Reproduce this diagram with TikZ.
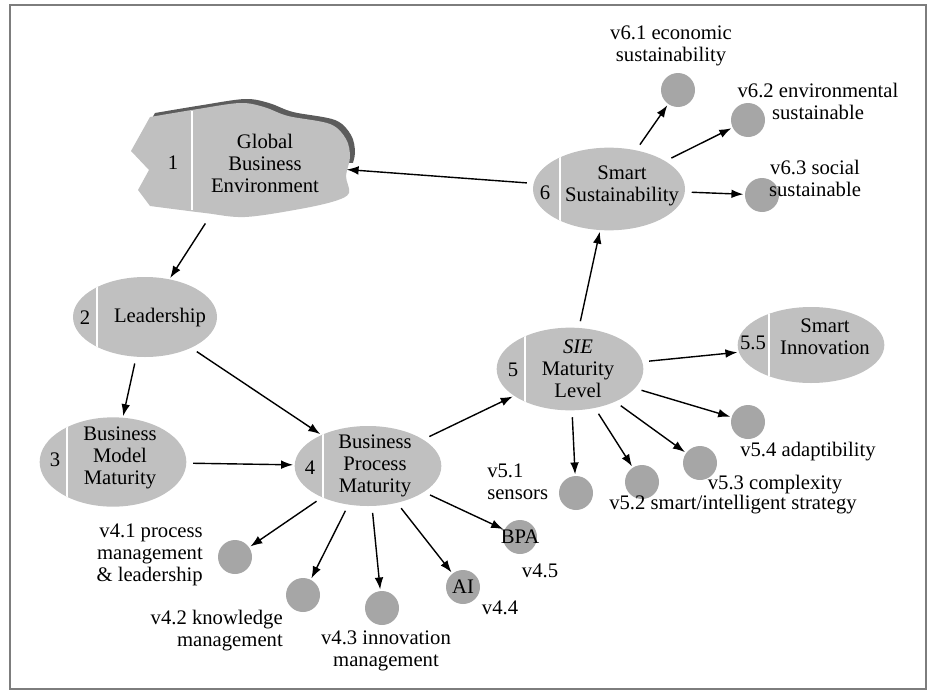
\documentclass[tikz,border=0pt]{standalone}
\usepackage{fontspec}
\setmainfont{Liberation Serif}
\usetikzlibrary{shapes.geometric,arrows.meta}
\definecolor{stagefill}{RGB}{192,192,192}
\definecolor{itemfill}{RGB}{166,166,166}
\definecolor{cloudedge}{RGB}{92,92,92}
\definecolor{framecol}{RGB}{125,125,125}

\begin{document}
\begin{tikzpicture}[x=0.75pt, y=-0.75pt,
    every node/.style={font=\fontsize{15.5}{16.5}\selectfont, inner sep=0pt},
    stage/.style={ellipse, fill=stagefill},
    divider/.style={path picture={\draw[white, line width=1.3pt] ([xshift=#1]path picture bounding box.north) -- ([xshift=#1]path picture bounding box.south);}},
    item/.style={circle, fill=itemfill, minimum size=25.5pt},
    arr/.style={-{Latex[length=9pt, width=6.5pt]}, line width=1.05pt, shorten <=5pt, shorten >=1pt}]
    \useasboundingbox (0,0) rectangle (930,692);
    \draw[framecol, line width=2.2pt] (10,5) rectangle (926,689);

    % Le nuage
    \begin{scope}
        \clip (100,80) rectangle (400,162);
        \fill[cloudedge, shift={(5,-4)}] plot[smooth, tension=0.55] coordinates {(150,117) (198,109) (240,103) (264,107) (288,116) (330,124) (346,139) (350,157) (346,176) (349,193) (335,201) (300,209) (245,217) (205,213) (150,206)} -- (138,190) -- (149,170) -- (131,151) -- cycle;
    \end{scope}
    \fill[stagefill] plot[smooth, tension=0.55] coordinates {(150,117) (198,109) (240,103) (264,107) (288,116) (330,124) (346,139) (350,157) (346,176) (349,193) (335,201) (300,209) (245,217) (205,213) (150,206)} -- (138,190) -- (149,170) -- (131,151) -- cycle;
    \draw[white, line width=1.3pt] (192,111) -- (192,210);
    \node[minimum width=150pt, minimum height=75pt] (gbe) at (245,162) {};
    \node[align=center] (gbe-t) at (265,163) {Global\\Business\\Environment};
    \node (gbe-n) at (173,163) {1};

    % Les étapes
    \node[stage, divider=-36pt, minimum width=108pt, minimum height=60pt] (lead) at (145,317) {};
    \node (lead-t) at (160,318) {Leadership};
    \node (lead-n) at (85,318) {2};

    \node[stage, divider=-34.5pt, minimum width=110pt, minimum height=67pt] (bmm) at (113,462) {};
    \node[align=center] (bmm-t) at (120,458) {Business\\Model\\Maturity};
    \node (bmm-n) at (55,460) {3};

    \node[stage, divider=-34pt, minimum width=110pt, minimum height=60pt] (bpm) at (368,466) {};
    \node[align=center] (bpm-t) at (375,466) {Business\\Process\\Maturity};
    \node (bpm-n) at (310,468) {4};

    \node[stage, divider=-34pt, minimum width=110pt, minimum height=62pt] (sie) at (570,369) {};
    \node[align=center] (sie-t) at (578,369) {\textit{SIE}\\Maturity\\Level};
    \node (sie-n) at (513,370) {5};

    \node[stage, divider=-31.5pt, minimum width=110pt, minimum height=57pt] (sinn) at (811,345) {};
    \node[align=center] (sinn-t) at (825,337) {Smart\\Innovation};
    \node (sinn-n) at (753,343) {5.5};

    \node[stage, divider=-37pt, minimum width=114pt, minimum height=62pt] (ssus) at (609,189) {};
    \node[align=center] (ssus-t) at (622,186) {Smart\\Sustainability};
    \node (ssus-n) at (545,193) {6};

    % Les variables
    \node[item] (v41) at (235,557) {};
    \node[item] (v42) at (303,595) {};
    \node[item] (v43) at (382,608) {};
    \node[item] (v44) at (463,587) {AI};
    \node[item, label={center:BPA}] (v45) at (520,537) {};
    \node[item] (v51) at (576,493) {};
    \node[item] (v52) at (642,482) {};
    \node[item] (v53) at (700,463) {};
    \node[item] (v54) at (748,422) {};
    \node[item] (v61) at (678,90) {};
    \node[item] (v62) at (748,120) {};
    \node[item] (v63) at (762,195) {};

    \node[anchor=east, align=right] (v41-t) at (203,555) {v4.1 process\\management\\\& leadership};
    \node[anchor=east, align=right] (v42-t) at (283,631) {v4.2 knowledge\\management};
    \node[align=center] (v43-t) at (386,651) {v4.3 innovation\\management};
    \node (v44-t) at (500,608) {v4.4};
    \node (v45-t) at (540,571) {v4.5};
    \node[anchor=west, align=left] (v51-t) at (487,482) {v5.1\\sensors};
    \node (v52-t) at (733,505) {v5.2 smart/intelligent strategy};
    \node (v53-t) at (775,485) {v5.3 complexity};
    \node (v54-t) at (808,452) {v5.4 adaptibility};
    \node[align=center] (v61-t) at (671,46) {v6.1 economic\\sustainability};
    \node[align=center] (v62-t) at (818,101) {v6.2 environmental\\sustainable};
    \node[align=center] (v63-t) at (815,178) {v6.3 social\\sustainable};

    % Les flèches
    \draw[arr, shorten <=10pt] (gbe) -- (lead);
    \draw[arr] (lead) -- (bmm);
    \draw[arr] (lead) -- (bpm);
    \draw[arr] (bmm) -- (bpm);
    \draw[arr] (bpm) -- (sie);
    \draw[arr] (sie) -- (ssus);
    \draw[arr] (ssus) -- (gbe);
    \draw[arr] (sie) -- (sinn);
    \foreach \v in {v41, v42, v43, v44, v45}
        \draw[arr] (bpm) -- (\v);
    \foreach \v in {v51, v52, v53, v54}
        \draw[arr] (sie) -- (\v);
    \foreach \v in {v61, v62, v63}
        \draw[arr] (ssus) -- (\v);
\end{tikzpicture}
\end{document}
